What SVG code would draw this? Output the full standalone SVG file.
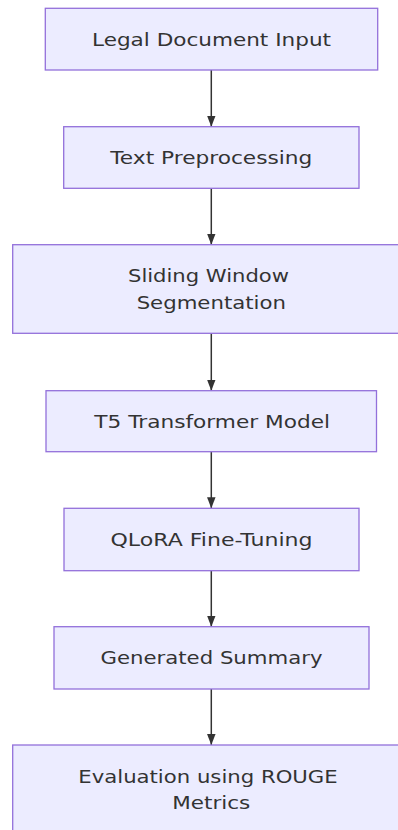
<svg xmlns="http://www.w3.org/2000/svg" width="398" height="830" viewBox="0 0 398 830">
  <style>
    .box { fill: #ECECFF; stroke: #9370DB; stroke-width: 1.3; }
    .lbl { font-family: "DejaVu Sans", Verdana, sans-serif; font-size: 18.5px; fill: #333333; text-anchor: middle; }
    .edge { stroke: #333333; stroke-width: 1.5; fill: none; marker-end: url(#arrow); }
  </style>
  <defs>
    <marker id="arrow" viewBox="0 0 11 8.5" refX="11" refY="4.25" markerUnits="userSpaceOnUse" markerWidth="11" markerHeight="8.5" orient="auto">
      <path d="M0,0 L11,4.25 L0,8.5 Z" fill="#333333"/>
    </marker>
  </defs>
  <rect width="398" height="830" fill="#FFFFFF"/>

  <g id="edges">
    <line class="edge" x1="211.3" y1="70" x2="211.3" y2="126.7"/>
    <line class="edge" x1="211.3" y1="188.3" x2="211.3" y2="244.7"/>
    <line class="edge" x1="211.3" y1="333.3" x2="211.3" y2="390.7"/>
    <line class="edge" x1="211.3" y1="451.7" x2="211.3" y2="508.3"/>
    <line class="edge" x1="211.3" y1="570.7" x2="211.3" y2="626.7"/>
    <line class="edge" x1="211.3" y1="689" x2="211.3" y2="745"/>
  </g>

  <g id="legal-input">
    <rect class="box" x="45.3" y="8.3" width="332.4" height="61.7"/>
    <text class="lbl" x="211.5" y="45.5" textLength="239" lengthAdjust="spacingAndGlyphs">Legal Document Input</text>
  </g>

  <g id="preprocessing">
    <rect class="box" x="63.7" y="126.7" width="295.3" height="61.6"/>
    <text class="lbl" x="211.3" y="164" textLength="202" lengthAdjust="spacingAndGlyphs">Text Preprocessing</text>
  </g>

  <g id="segmentation">
    <rect class="box" x="12.7" y="244.7" width="397" height="88.6"/>
    <text class="lbl" x="208.5" y="281.7" textLength="161" lengthAdjust="spacingAndGlyphs">Sliding Window</text>
    <text class="lbl" x="211.3" y="309" textLength="149.3" lengthAdjust="spacingAndGlyphs">Segmentation</text>
  </g>

  <g id="t5-model">
    <rect class="box" x="46" y="390.7" width="330.5" height="61"/>
    <text class="lbl" x="212.2" y="427.7" textLength="235.7" lengthAdjust="spacingAndGlyphs">T5 Transformer Model</text>
  </g>

  <g id="qlora">
    <rect class="box" x="64" y="508.3" width="295" height="62.4"/>
    <text class="lbl" x="211.5" y="546" textLength="202" lengthAdjust="spacingAndGlyphs">QLoRA Fine-Tuning</text>
  </g>

  <g id="summary">
    <rect class="box" x="54" y="626.7" width="315" height="62.3"/>
    <text class="lbl" x="211.5" y="664" textLength="222" lengthAdjust="spacingAndGlyphs">Generated Summary</text>
  </g>

  <g id="evaluation">
    <rect class="box" x="12.7" y="745" width="397" height="88.6"/>
    <text class="lbl" x="208" y="782.7" textLength="259.4" lengthAdjust="spacingAndGlyphs">Evaluation using ROUGE</text>
    <text class="lbl" x="211.3" y="809.3" textLength="78" lengthAdjust="spacingAndGlyphs">Metrics</text>
  </g>
</svg>
